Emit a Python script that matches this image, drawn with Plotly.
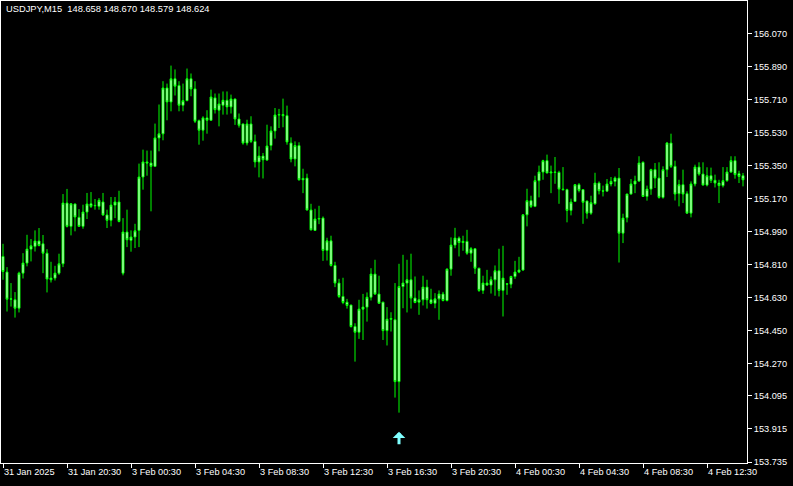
import plotly.graph_objects as go

title_text = "USDJPY,M15  148.658 148.670 148.579 148.624"

opens = [154.855,154.770,154.622,154.619,154.573,154.764,154.819,154.895,154.910,154.939,
154.924,154.873,154.737,154.737,154.764,154.815,155.146,155.019,155.141,155.068,
155.019,155.097,155.142,155.131,155.128,155.152,155.081,155.052,155.135,155.152,
154.764,154.988,154.943,154.961,154.997,155.288,155.370,155.364,155.346,155.501,
155.523,155.773,155.697,155.823,155.786,155.679,155.704,155.823,155.768,155.595,
155.543,155.610,155.597,155.719,155.652,155.679,155.706,155.670,155.713,155.604,
155.577,155.473,155.577,155.482,155.370,155.402,155.380,155.460,155.539,155.626,
155.628,155.622,155.473,155.386,155.459,155.273,155.282,155.108,154.997,155.059,
155.064,154.888,154.940,154.806,154.710,154.637,154.606,154.590,154.473,154.442,
154.568,154.579,154.633,154.759,154.650,154.606,154.451,154.513,154.510,154.173,
154.691,154.710,154.728,154.628,154.606,154.619,154.688,154.619,154.600,154.624,
154.650,154.615,154.786,154.917,154.955,154.931,154.937,154.873,154.897,154.791,
154.670,154.710,154.699,154.728,154.777,154.670,154.706,154.704,154.746,154.770,
154.781,155.082,155.159,155.128,155.268,155.315,155.377,155.310,155.315,155.313,
155.222,155.219,155.106,155.155,155.246,155.219,155.157,155.091,155.142,155.255,
155.213,155.211,155.250,155.264,155.282,154.982,155.066,155.195,155.250,155.266,
155.368,155.182,155.222,155.328,155.282,155.177,155.328,155.473,155.346,155.197,
155.246,155.197,155.091,155.250,155.342,155.304,155.244,155.295,155.270,155.255,
155.241,155.268,155.315,155.377,155.306,155.295]

highs = [154.924,154.797,154.710,154.661,154.772,154.873,154.973,154.950,154.997,155.010,
154.972,154.895,154.826,154.804,154.870,155.195,155.223,155.146,155.143,155.113,
155.137,155.201,155.206,155.168,155.173,155.201,155.110,155.179,155.179,155.213,
155.064,155.110,154.997,155.033,155.361,155.437,155.432,155.432,155.579,155.683,
155.810,155.797,155.895,155.874,155.810,155.797,155.879,155.852,155.810,155.601,
155.619,155.652,155.764,155.743,155.743,155.754,155.754,155.737,155.715,155.634,
155.579,155.600,155.619,155.519,155.455,155.419,155.573,155.564,155.664,155.659,
155.715,155.677,155.504,155.482,155.477,155.333,155.306,155.142,155.115,155.131,
155.073,154.957,154.968,154.826,154.733,154.739,154.624,154.592,154.491,154.619,
154.651,154.659,154.791,154.837,154.750,154.608,154.579,154.551,154.710,154.815,
154.864,154.837,154.870,154.746,154.670,154.750,154.728,154.679,154.655,154.670,
154.662,154.790,154.959,155.011,154.964,154.968,155.000,154.906,154.900,154.793,
154.750,154.782,154.746,154.806,154.897,154.913,154.710,154.750,154.831,154.853,
155.084,155.224,155.186,155.295,155.350,155.382,155.410,155.350,155.397,155.322,
155.342,155.224,155.170,155.250,155.255,155.222,155.159,155.186,155.311,155.264,
155.241,155.277,155.288,155.291,155.337,155.088,155.197,155.277,155.295,155.401,
155.373,155.241,155.333,155.364,155.368,155.346,155.479,155.524,155.377,155.273,
155.328,155.210,155.264,155.355,155.368,155.368,155.341,155.339,155.301,155.273,
155.342,155.342,155.401,155.401,155.322,155.310]

lows = [154.728,154.555,154.582,154.522,154.550,154.735,154.801,154.828,154.882,154.910,
154.764,154.659,154.713,154.724,154.755,154.797,155.013,154.970,154.992,155.018,
155.006,155.059,155.119,155.110,155.110,155.077,155.010,155.019,155.064,155.041,
154.752,154.906,154.881,154.901,154.906,155.219,155.295,155.101,155.344,155.428,
155.488,155.597,155.646,155.732,155.646,155.646,155.701,155.728,155.582,155.464,
155.486,155.524,155.595,155.634,155.564,155.628,155.628,155.634,155.572,155.557,
155.464,155.460,155.473,155.340,155.286,155.280,155.377,155.433,155.497,155.555,
155.559,155.464,155.368,155.346,155.268,155.200,155.106,154.997,154.995,155.031,
154.831,154.833,154.800,154.688,154.628,154.595,154.571,154.468,154.282,154.406,
154.400,154.500,154.615,154.646,154.597,154.400,154.370,154.446,154.086,154.004,
154.573,154.550,154.571,154.600,154.537,154.588,154.571,154.595,154.573,154.510,
154.610,154.610,154.750,154.900,154.855,154.886,154.864,154.826,154.760,154.662,
154.651,154.695,154.653,154.641,154.637,154.528,154.646,154.682,154.733,154.764,
154.777,155.019,155.119,155.124,155.177,155.273,155.308,155.200,155.251,155.142,
155.215,155.041,155.079,155.153,155.204,155.033,155.061,155.082,155.137,155.193,
155.182,155.210,155.237,155.237,154.822,154.928,155.041,155.193,155.200,155.261,
155.180,155.159,155.191,155.228,155.170,155.170,155.288,155.337,155.160,155.128,
155.146,155.089,155.068,155.237,155.295,155.242,155.237,155.255,155.231,155.146,
155.231,155.262,155.310,155.279,155.255,155.237]

closes = [154.773,154.622,154.624,154.573,154.764,154.819,154.895,154.913,154.939,154.915,
154.873,154.732,154.728,154.764,154.815,155.146,155.019,155.142,155.070,155.019,
155.097,155.141,155.128,155.133,155.161,155.081,155.052,155.135,155.152,155.046,
154.988,154.946,154.961,154.995,155.288,155.370,155.364,155.346,155.501,155.523,
155.773,155.697,155.823,155.783,155.679,155.704,155.823,155.768,155.592,155.543,
155.610,155.597,155.724,155.655,155.686,155.706,155.670,155.713,155.604,155.570,
155.473,155.577,155.482,155.370,155.402,155.382,155.457,155.539,155.626,155.628,
155.622,155.479,155.386,155.459,155.273,155.280,155.108,155.000,155.059,155.062,
154.888,154.940,154.806,154.710,154.637,154.604,154.588,154.473,154.442,154.568,
154.579,154.633,154.759,154.650,154.600,154.451,154.513,154.517,154.173,154.691,
154.710,154.728,154.628,154.604,154.619,154.688,154.619,154.600,154.624,154.650,
154.615,154.786,154.917,154.955,154.931,154.937,154.873,154.897,154.791,154.670,
154.710,154.699,154.728,154.777,154.670,154.737,154.704,154.746,154.770,154.781,
155.082,155.159,155.128,155.268,155.315,155.377,155.310,155.315,155.313,155.222,
155.219,155.106,155.151,155.246,155.215,155.150,155.091,155.148,155.255,155.213,
155.211,155.250,155.264,155.282,154.982,155.064,155.195,155.250,155.266,155.364,
155.182,155.222,155.328,155.282,155.177,155.328,155.473,155.346,155.195,155.246,
155.195,155.091,155.250,155.342,155.304,155.244,155.295,155.270,155.255,155.241,
155.268,155.315,155.377,155.301,155.291,155.273]

bars = list(range(len(opens)))

time_tick_bars = [0, 16, 32, 48, 64, 80, 96, 112, 128, 144, 160, 176]
time_tick_labels = ["31 Jan 2025", "31 Jan 20:30", "3 Feb 00:30", "3 Feb 04:30",
                    "3 Feb 08:30", "3 Feb 12:30", "3 Feb 16:30", "3 Feb 20:30",
                    "4 Feb 00:30", "4 Feb 04:30", "4 Feb 08:30", "4 Feb 12:30"]

price_ticks = [153.735, 153.915, 154.095, 154.270, 154.450, 154.630, 154.810,
               154.990, 155.170, 155.350, 155.530, 155.710, 155.890, 156.070]

arrow_bar = [99]
arrow_price = [153.900]

GREEN = "#00ff00"
FONT = "Liberation Sans"

fig = go.Figure()
fig.add_trace(go.Candlestick(
    x=bars, open=opens, high=highs, low=lows, close=closes,
    increasing=dict(line=dict(color=GREEN, width=1), fillcolor="#ffffff"),
    decreasing=dict(line=dict(color=GREEN, width=1), fillcolor="#ffffff"),
    whiskerwidth=0, showlegend=False, hoverinfo="skip",
))

for b, p in zip(arrow_bar, arrow_price):
    fig.add_annotation(x=b, y=p, xref="x", yref="y", text="", showarrow=True,
                       ax=0, ay=14, axref="pixel", ayref="pixel",
                       arrowhead=1, arrowsize=0.7, arrowwidth=3,
                       arrowcolor="#80ffff")

fig.add_annotation(x=0, y=1, xref="paper", yref="paper", xanchor="left", yanchor="top",
                   xshift=3, yshift=-1, text=title_text, showarrow=False,
                   font=dict(family=FONT, size=9.3, color="#ffffff"))

fig.update_layout(
    width=793, height=486,
    paper_bgcolor="#000000", plot_bgcolor="#000000",
    margin=dict(l=1, r=46, t=1, b=23),
    boxgap=0.3,
    xaxis=dict(
        range=[-0.5, 186], rangeslider=dict(visible=False),
        showgrid=False, zeroline=False,
        showline=True, mirror=True, linecolor="#ffffff", linewidth=1,
        tickmode="array", tickvals=time_tick_bars, ticktext=time_tick_labels,
        ticks="outside", ticklen=4, tickcolor="#ffffff", tickwidth=1,
        ticklabelposition="outside right",
        tickfont=dict(family=FONT, size=9.2, color="#ffffff"),
        fixedrange=True,
    ),
    yaxis=dict(
        side="right", range=[153.7296, 156.247],
        showgrid=False, zeroline=False,
        showline=True, mirror=True, linecolor="#ffffff", linewidth=1,
        tickmode="array", tickvals=price_ticks,
        ticktext=[f"{v:.3f}" for v in price_ticks],
        ticks="outside", ticklen=4, tickcolor="#ffffff", tickwidth=1,
        tickfont=dict(family=FONT, size=9.2, color="#ffffff"),
        fixedrange=True,
    ),
)

fig.write_html("out.html", config={"displayModeBar": False},
               post_script="document.body.style.margin='0';document.body.style.background='#000';")
